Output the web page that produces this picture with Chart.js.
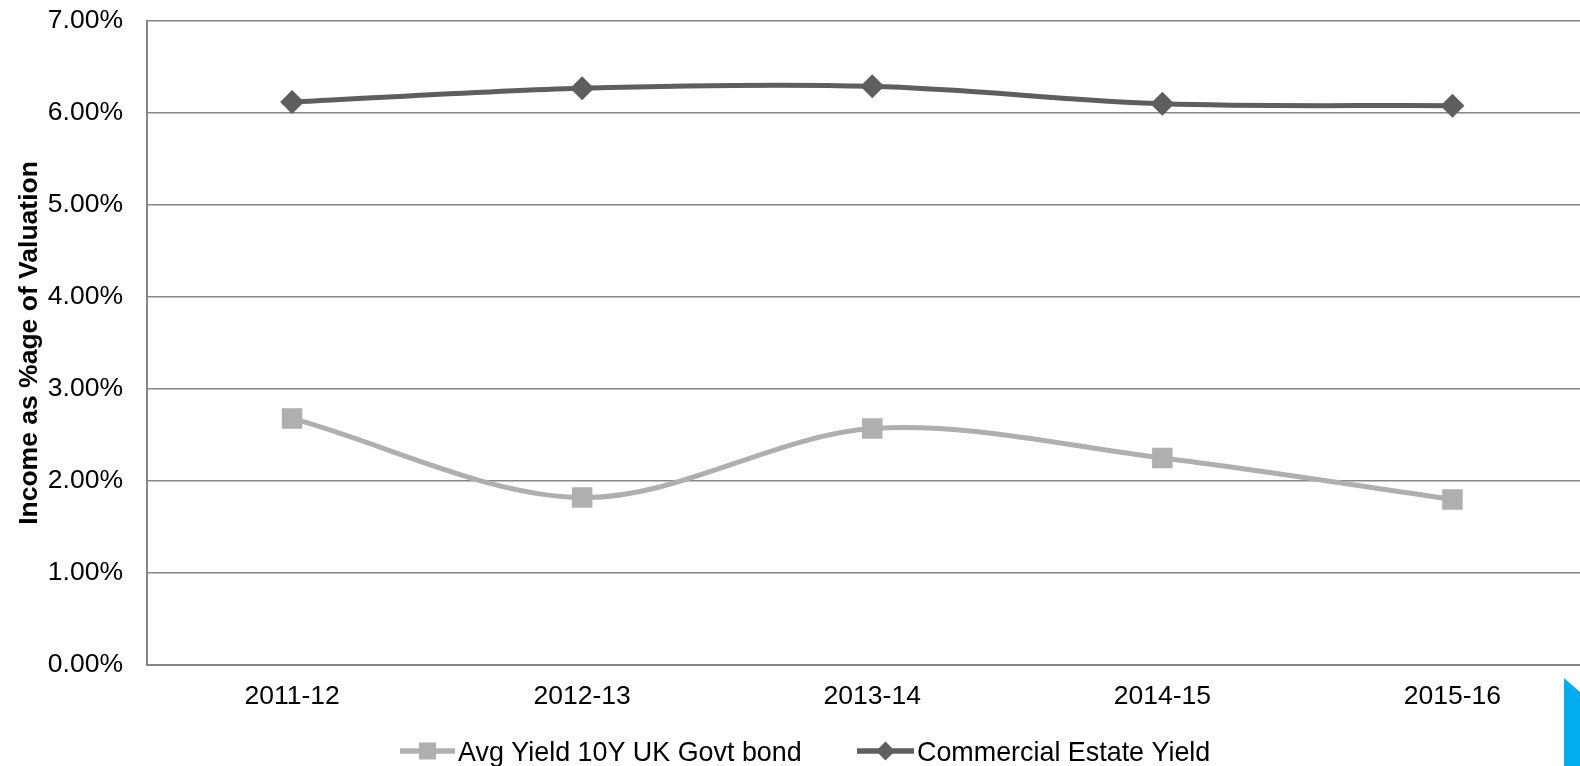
<!DOCTYPE html>
<html>
<head>
<meta charset="utf-8">
<script src="https://cdn.jsdelivr.net/npm/chart.js@4.4.1/dist/chart.umd.min.js"></script>
<style>
  html, body { margin: 0; padding: 0; background: #fff; overflow: hidden; }
  #wrap { position: absolute; left: 0; top: 0; width: 1612px; height: 766px; }
  #corner {
    position: absolute; left: 1564px; top: 678px; width: 16px; height: 88px;
    background: #00AEEF;
    clip-path: polygon(0 0, 100% 14px, 100% 100%, 0 100%);
  }
</style>
</head>
<body>
<div id="wrap"><canvas id="c" width="1612" height="766"></canvas></div>
<div id="corner"></div>
<script>
// Financial years on the x axis
const categories = ['2011-12', '2012-13', '2013-14', '2014-15', '2015-16'];
// Yields, in percent of valuation
const bondYield = [2.68, 1.82, 2.57, 2.25, 1.80];
const commercialYield = [6.12, 6.27, 6.29, 6.10, 6.08];
// Labels for the value axis, 0% .. 7%
const yTickLabels = ['0.00%', '1.00%', '2.00%', '3.00%', '4.00%', '5.00%', '6.00%', '7.00%'];
const seriesNames = ['Avg Yield 10Y UK Govt bond', 'Commercial Estate Yield'];

const FONT = '"Liberation Sans", Arial, sans-serif';
const GRID = '#868686';
const BOND = '#AFAFAF';
const COMM = '#5E5E5E';

Chart.defaults.font.family = FONT;
Chart.defaults.color = '#000';

// Legend drawn as line + marker + label, one row under the axis
const lineLegend = {
  id: 'lineLegend',
  afterDraw(chart) {
    const ctx = chart.ctx;
    const startX = [400, 857];
    const lineLen = [55, 57];
    const cy = 751;
    chart.data.datasets.forEach((ds, i) => {
      const x0 = startX[i], len = lineLen[i];
      ctx.save();
      ctx.strokeStyle = ds.borderColor;
      ctx.lineWidth = 5.5;
      ctx.beginPath();
      ctx.moveTo(x0, cy);
      ctx.lineTo(x0 + len, cy);
      ctx.stroke();
      const mx = x0 + len / 2;
      ctx.fillStyle = ds.backgroundColor;
      ctx.beginPath();
      if (ds.pointStyle === 'rect') {
        ctx.rect(mx - 8.5, cy - 8.5, 17, 17);
      } else {
        ctx.moveTo(mx, cy - 9.5);
        ctx.lineTo(mx + 9.5, cy);
        ctx.lineTo(mx, cy + 9.5);
        ctx.lineTo(mx - 9.5, cy);
        ctx.closePath();
      }
      ctx.fill();
      ctx.translate(x0 + len + 3, 761);
      ctx.scale(0.96, 1);
      ctx.fillStyle = '#000';
      ctx.font = '28px ' + FONT;
      ctx.textBaseline = 'alphabetic';
      ctx.textAlign = 'left';
      ctx.fillText(ds.label, 0, 0);
      ctx.restore();
    });
  }
};

new Chart(document.getElementById('c'), {
  type: 'line',
  data: {
    labels: categories,
    datasets: [
      {
        label: seriesNames[0],
        data: bondYield,
        borderColor: BOND,
        backgroundColor: BOND,
        borderWidth: 5,
        pointStyle: 'rect',
        pointRadius: 14.5,
        pointBorderWidth: 0,
        tension: 0.33,
        fill: false
      },
      {
        label: seriesNames[1],
        data: commercialYield,
        borderColor: COMM,
        backgroundColor: COMM,
        borderWidth: 5,
        pointStyle: 'rectRot',
        pointRadius: 12,
        pointBorderWidth: 0,
        tension: 0.33,
        fill: false
      }
    ]
  },
  options: {
    responsive: false,
    animation: false,
    layout: { padding: { top: 21, left: 0, right: 2, bottom: 0 } },
    plugins: { legend: { display: false }, tooltip: { enabled: false } },
    scales: {
      x: {
        offset: true,
        grid: { display: false, drawTicks: false },
        border: { display: true, color: GRID, width: 2 },
        ticks: { padding: 16, font: { size: 26.5 }, color: '#000', maxRotation: 0, autoSkip: false },
        afterFit: s => { s.height = 101; }
      },
      y: {
        min: 0,
        max: 7,
        ticks: {
          stepSize: 1,
          padding: 24,
          font: { size: 26.5 },
          color: '#000',
          callback: (v, i) => yTickLabels[i]
        },
        grid: { color: GRID, lineWidth: 1.5, drawTicks: false },
        border: { display: true, color: GRID, width: 2 },
        title: {
          display: true,
          text: 'Income as %age of Valuation',
          font: { size: 26.5, weight: 'bold' },
          color: '#000',
          padding: { top: 14, bottom: 0 }
        },
        afterFit: s => { s.width = 147; s.paddingTop = 0; s.paddingBottom = 0; }
      }
    }
  },
  plugins: [lineLegend]
});
</script>
</body>
</html>
